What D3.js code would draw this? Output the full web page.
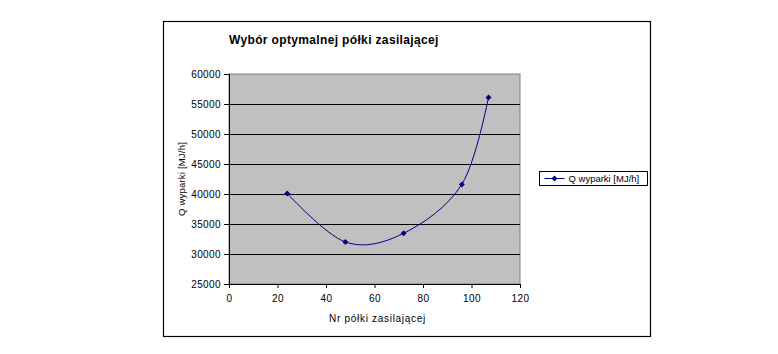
<!DOCTYPE html>
<html>
<head>
<meta charset="utf-8">
<title>Wybór optymalnej półki zasilającej</title>
<script src="https://d3js.org/d3.v7.min.js"></script>
<style>
  body { margin: 0; background: #fff; }
  text { font-family: "Liberation Sans", Arial, sans-serif; }
</style>
</head>
<body>
<div id="chart"></div>
<script>
// dane
const polki = [24, 48, 72, 96, 107];
const qWyparki = [40100, 32000, 33450, 41600, 56100];
const xTicks = [0, 20, 40, 60, 80, 100, 120];
const yTicks = [25000, 30000, 35000, 40000, 45000, 50000, 55000, 60000];
const seriesName = "Q wyparki [MJ/h]";

const W = 778, H = 354;
const plot = {left: 229, top: 74, right: 520, bottom: 284};

const svg = d3.select("#chart").append("svg")
    .attr("width", W).attr("height", H);

// ramka wykresu
svg.append("rect")
    .attr("x", 163.5).attr("y", 21.5)
    .attr("width", 487).attr("height", 315)
    .attr("fill", "#fff").attr("stroke", "#000").attr("stroke-width", 1.2);

const x = d3.scaleLinear().domain([0, 120]).range([plot.left, plot.right]);
const y = d3.scaleLinear().domain([25000, 60000]).range([plot.bottom, plot.top]);

// obszar kreślenia
svg.append("rect")
    .attr("x", plot.left).attr("y", plot.top)
    .attr("width", plot.right - plot.left).attr("height", plot.bottom - plot.top)
    .attr("fill", "#c0c0c0").attr("stroke", "#808080").attr("stroke-width", 1);

// linie siatki
svg.append("g").selectAll("line")
    .data(yTicks.filter(d => d > 25000 && d < 60000))
    .enter().append("line")
    .attr("x1", plot.left).attr("x2", plot.right)
    .attr("y1", d => Math.round(y(d)) + 0.5).attr("y2", d => Math.round(y(d)) + 0.5)
    .attr("stroke", "#000").attr("stroke-width", 1);

// osie
const xAxis = d3.axisBottom(x).tickValues(xTicks).tickSize(4).tickPadding(7)
    .tickFormat(d3.format("d"));
const gx = svg.append("g")
    .attr("transform", "translate(0," + plot.bottom + ")")
    .call(xAxis);
gx.selectAll("path").attr("stroke", "#000");
gx.selectAll("line").attr("stroke", "#000");
gx.selectAll("text").attr("font-size", "10px").attr("fill", "#000")
    .style("letter-spacing", "0.5px")
    .style("font-family", "Liberation Sans, Arial, sans-serif");

const yAxis = d3.axisLeft(y).tickValues(yTicks).tickSize(5).tickPadding(3)
    .tickFormat(d3.format("d"));
const gy = svg.append("g")
    .attr("transform", "translate(" + plot.left + ",0)")
    .call(yAxis);
gy.selectAll("path").attr("stroke", "#000");
gy.selectAll("line").attr("stroke", "#000");
gy.selectAll("text").attr("font-size", "10px").attr("fill", "#000")
    .style("letter-spacing", "0.4px")
    .style("font-family", "Liberation Sans, Arial, sans-serif");

// seria
const data = polki.map((p, i) => ({x: p, y: qWyparki[i]}));
const line = d3.line()
    .x(d => x(d.x)).y(d => y(d.y))
    .curve(d3.curveCatmullRom.alpha(0));
svg.append("path")
    .datum(data)
    .attr("d", line)
    .attr("fill", "none")
    .attr("stroke", "#000080")
    .attr("stroke-width", 1);

svg.append("g").selectAll("path")
    .data(data)
    .enter().append("path")
    .attr("transform", d => "translate(" + x(d.x) + "," + y(d.y) + ") rotate(45)")
    .attr("d", d3.symbol().type(d3.symbolSquare).size(18))
    .attr("fill", "#000080");

// tytuł
svg.append("text")
    .attr("x", 229).attr("y", 44)
    .attr("font-size", "12px").attr("font-weight", "bold")
    .style("letter-spacing", "0.35px")
    .text("Wybór optymalnej półki zasilającej");

// tytuły osi
svg.append("text")
    .attr("x", (plot.left + plot.right) / 2 + 3).attr("y", 322)
    .attr("text-anchor", "middle").attr("font-size", "10px")
    .style("letter-spacing", "0.7px")
    .text("Nr półki zasilającej");

svg.append("text")
    .attr("transform", "translate(185," + ((plot.top + plot.bottom) / 2) + ") rotate(-90)")
    .attr("text-anchor", "middle").attr("font-size", "9.5px")
    .style("letter-spacing", "0.2px")
    .text("Q wyparki [MJ/h]");

// legenda
const leg = svg.append("g").attr("transform", "translate(539.5,171.5)");
leg.append("rect")
    .attr("width", 108).attr("height", 14)
    .attr("fill", "#fff").attr("stroke", "#000").attr("stroke-width", 1);
leg.append("line")
    .attr("x1", 5).attr("x2", 25).attr("y1", 7).attr("y2", 7)
    .attr("stroke", "#000080").attr("stroke-width", 1);
leg.append("path")
    .attr("transform", "translate(15,7) rotate(45)")
    .attr("d", d3.symbol().type(d3.symbolSquare).size(18))
    .attr("fill", "#000080");
leg.append("text")
    .attr("x", 29).attr("y", 10.5)
    .attr("font-size", "9.5px")
    .text(seriesName);
</script>
</body>
</html>
